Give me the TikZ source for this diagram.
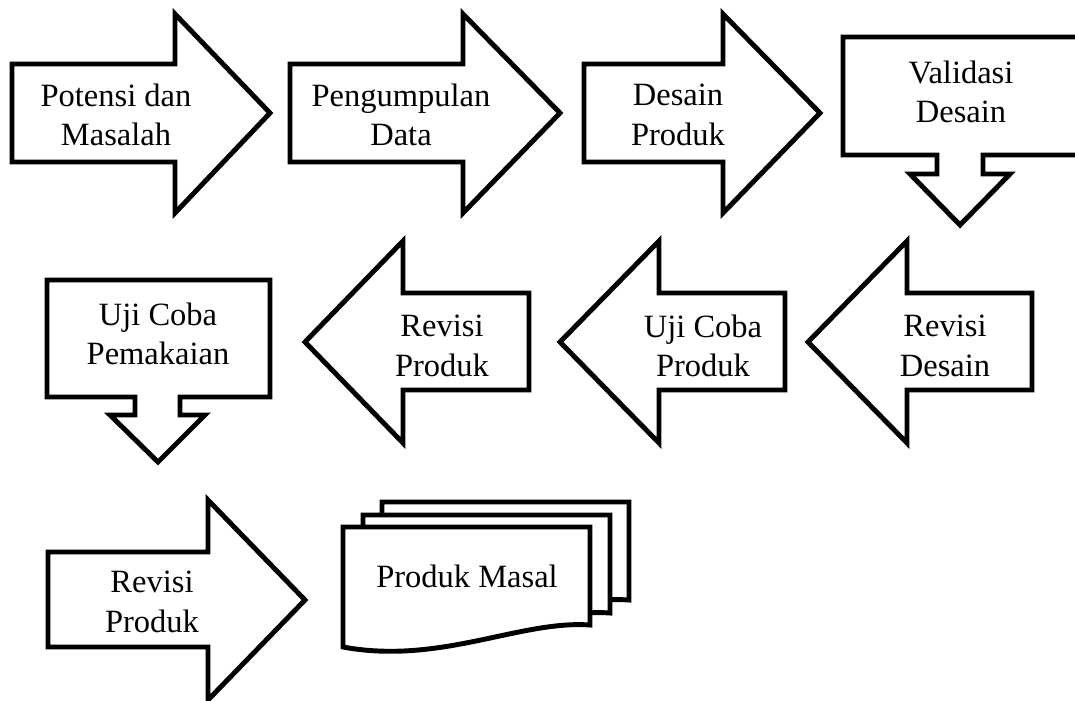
\documentclass[tikz,border=0pt]{standalone}
\usepackage{fontspec}
\setmainfont{Liberation Serif}
\begin{document}
\begin{tikzpicture}[x=0.02cm,y=-0.02cm,
    shp/.style={draw,line width=2.8pt,fill=white,line join=miter,miter limit=10},
    lbl/.style={align=center,inner sep=0pt,font=\fontsize{18.5}{22.5}\selectfont}]
  \path[use as bounding box,fill=white] (0,0) rectangle (1075,700);
  % first row
  \draw[shp] (12,64) -- (175,64) -- (175,14) -- (270,113) -- (175,213) -- (175,162) -- (12,162) -- cycle;
  \draw[shp] (290,64) -- (463,64) -- (463,14) -- (560,113) -- (463,213) -- (463,162) -- (290,162) -- cycle;
  \draw[shp] (584,64) -- (723,64) -- (723,14) -- (820,113) -- (723,213) -- (723,162) -- (584,162) -- cycle;
  \draw[shp] (843,37) -- (1090,37) -- (1090,155) -- (983,155) -- (983,174) -- (1010,174)
    -- (960,225) -- (910,174) -- (937,174) -- (937,155) -- (843,155) -- cycle;
  % second row
  \draw[shp] (1032,293) -- (907,293) -- (907,241) -- (808,342) -- (907,443) -- (907,390) -- (1032,390) -- cycle;
  \draw[shp] (785,293) -- (659,293) -- (659,241) -- (560,342) -- (659,443) -- (659,390) -- (785,390) -- cycle;
  \draw[shp] (529,293) -- (403,293) -- (403,241) -- (305,342) -- (403,443) -- (403,390) -- (529,390) -- cycle;
  \draw[shp] (47,280) -- (270,280) -- (270,397) -- (180,397) -- (180,415) -- (205,415)
    -- (158,462) -- (110,415) -- (135,415) -- (135,397) -- (47,397) -- cycle;
  % third row
  \draw[shp] (48,552) -- (208,552) -- (208,500) -- (305,600) -- (208,700) -- (208,647) -- (48,647) -- cycle;
  \foreach \dx/\dy in {39/-25,20/-12,0/0}
    \draw[shp,shift={(\dx,\dy)}] (343,527) -- (590,527) -- (590,625)
      .. controls (520,620) and (440,665) .. (343,647) -- cycle;
  % texts
  \node[lbl] (potensi) at (116,115) {Potensi dan\\Masalah};
  \node[lbl] (pengumpulan) at (401,115) {Pengumpulan\\Data};
  \node[lbl] (desain) at (678,115) {Desain\\Produk};
  \node[lbl] (validasi) at (961,92) {Validasi\\Desain};
  \node[lbl] (revdesain) at (945,346) {Revisi\\Desain};
  \node[lbl] (ujiproduk) at (703,346) {Uji Coba\\Produk};
  \node[lbl] (revproduk) at (442,346) {Revisi\\Produk};
  \node[lbl] (ujipakai) at (158,334) {Uji Coba\\Pemakaian};
  \node[lbl] (revprodukdua) at (152,602) {Revisi\\Produk};
  \node[lbl] (masal) at (467,576) {Produk Masal};
\end{tikzpicture}
\end{document}
